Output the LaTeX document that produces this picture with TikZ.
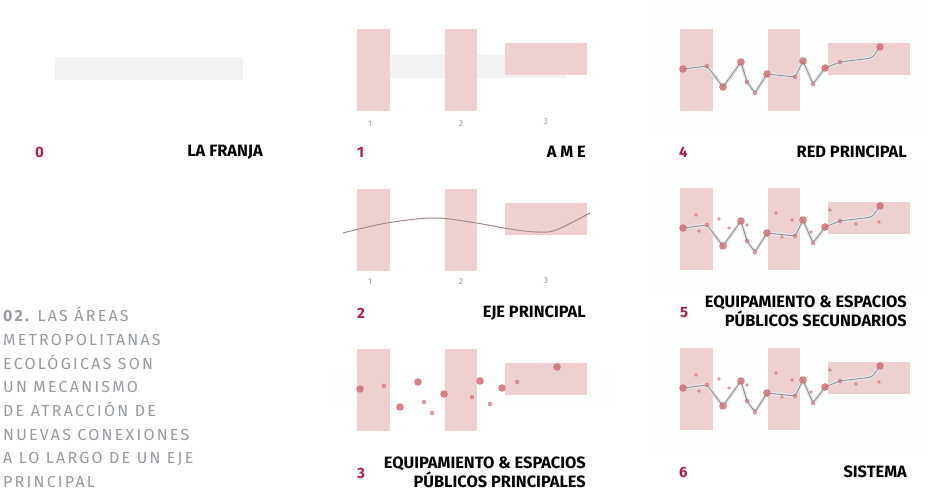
\documentclass[tikz,border=0pt]{standalone}
\usepackage{fontspec}
\setmainfont{Fira Sans}
\usetikzlibrary{positioning}

\definecolor{franja}{RGB}{242,242,242}
\definecolor{ame}{RGB}{239,208,208}
\definecolor{numred}{RGB}{181,26,77}
\definecolor{ejecol}{RGB}{165,136,138}
\definecolor{halo}{RGB}{222,234,241}
\definecolor{dotcol}{RGB}{206,112,118}
\definecolor{txtgray}{RGB}{150,155,160}
\definecolor{faint}{RGB}{253,254,254}

\newcommand{\ameblocks}{
\fill[ame] (357,29) rectangle (390,111);
\fill[ame] (445,29) rectangle (477,111);
\fill[ame] (505,43) rectangle (587,75);
}

\newcommand{\redcoords}{
\coordinate (n1) at (360,69);
\coordinate (n2) at (384,66);
\coordinate (n3) at (400,87);
\coordinate (n4) at (418,62);
\coordinate (n5) at (424,82);
\coordinate (n6) at (432,93);
\coordinate (n7) at (444,74);
\coordinate (n8) at (472,77);
\coordinate (n9) at (480,61);
\coordinate (n10) at (490,84);
\coordinate (n11) at (502,68);
\coordinate (n12) at (517,62);
\coordinate (n13) at (549,58);
\coordinate (n14) at (557,47);
}

\newcommand{\reddots}{
\foreach \n in {n1,n3,n4,n7,n9,n11,n14}
  \fill[bigdot] (\n) circle (3.8);
\foreach \n in {n2,n5,n6,n8,n10,n12}
  \fill[smalldot] (\n) circle (2.3);
}

\newcommand{\redline}{
\draw[halo, line width=3.5, rounded corners=3] (n1) -- (n2) -- (n3) -- (n4) -- (n5) -- (n6) -- (n7) -- (n8) -- (n9) -- (n10) -- (n11) -- (n12) -- (n13) -- (n14);
\draw[ejecol, line width=0.9, rounded corners=3] (n1) -- (n2) -- (n3) -- (n4) -- (n5) -- (n6) -- (n7) -- (n8) -- (n9) -- (n10) -- (n11) -- (n12) -- (n13) -- (n14);
}

\newcommand{\secdots}{
\foreach \p in {(373,56),(376,72),(396,60),(406,69),(424,66),(453,54),(459,78),(469,61),(488,73),(507,51),(533,65),(556,63)}
  \fill[smalldot] \p circle (1.8);
}

\begin{document}
\begin{tikzpicture}[x=1pt, y=-1pt,
  numlabel/.style={text=numred, font=\fontsize{15}{18}\selectfont\bfseries, inner sep=0pt},
  panellabel/.style={font=\fontsize{16.4}{19}\selectfont\bfseries, align=right, inner sep=0pt},
  tinylabel/.style={text=black!40, font=\fontsize{8.5}{9}\selectfont, inner sep=0pt},
  paraline/.style={text=txtgray, font=\fontsize{16}{18}\selectfont\addfontfeatures{LetterSpace=14}, anchor=base west, inner sep=0pt},
  bigdot/.style={dotcol, opacity=0.85},
  smalldot/.style={dotcol, opacity=0.7}]

\useasboundingbox (0,0) rectangle (929,494);

\fill[franja] (55,57) rectangle (243,80);

\fill[franja] (390,55) rectangle (566,78);
\ameblocks
\node[tinylabel] (a1) at (370,124) {1};
\node[tinylabel] (a2) at (461,124) {2};
\node[tinylabel] (a3) at (546,122) {3};

\begin{scope}[shift={(0,160)}]
\ameblocks
\draw[ejecol, line width=1] plot[smooth, tension=0.6] coordinates {(343,73) (387,63) (433,58) (470,62) (510,69) (537,72) (556,70) (590,53)};
\node[tinylabel] (b1) at (370,122) {1};
\node[tinylabel] (b2) at (461,122) {2};
\node[tinylabel] (b3) at (546,121) {3};
\end{scope}

\begin{scope}[shift={(0,320)}]
\fill[faint] (330,50) rectangle (615,86);
\ameblocks
\redcoords
\reddots
\end{scope}

\begin{scope}[shift={(323,0)}]
\fill[faint] (330,5) rectangle (598,130);
\ameblocks
\redcoords
\redline
\reddots
\end{scope}

\begin{scope}[shift={(323,159)}]
\fill[faint] (330,5) rectangle (598,130);
\ameblocks
\redcoords
\redline
\reddots
\secdots
\end{scope}

\begin{scope}[shift={(323,319)}]
\fill[faint] (330,5) rectangle (598,130);
\ameblocks
\redcoords
\redline
\reddots
\secdots
\end{scope}

\node[numlabel, anchor=west] (num0) at (35,152) {0};
\node[panellabel, anchor=east] (lab0) at (263,152) {LA FRANJA};
\node[numlabel, anchor=west] (num1) at (357,152) {1};
\node[panellabel, anchor=east] (lab1) at (586,152) {A M E};
\node[numlabel, anchor=west] (num2) at (357,313) {2};
\node[panellabel, anchor=east] (lab2) at (586,313) {EJE PRINCIPAL};
\node[numlabel, anchor=west] (num3) at (357,473) {3};
\node[panellabel, anchor=east] (lab3) at (586,472) {EQUIPAMIENTO \& ESPACIOS\\PÚBLICOS PRINCIPALES};
\node[numlabel, anchor=west] (num4) at (679,152) {4};
\node[panellabel, anchor=east] (lab4) at (907,152) {RED PRINCIPAL};
\node[numlabel, anchor=west] (num5) at (680,313) {5};
\node[panellabel, anchor=east] (lab5) at (907,311) {EQUIPAMIENTO \& ESPACIOS\\PÚBLICOS SECUNDARIOS};
\node[numlabel, anchor=west] (num6) at (679,472) {6};
\node[panellabel, anchor=east] (lab6) at (907,472) {SISTEMA};

\foreach \txt [count=\i] in {{\bfseries 02.} LAS ÁREAS, METROPOLITANAS, ECOLÓGICAS SON, UN MECANISMO, DE ATRACCIÓN DE, NUEVAS CONEXIONES, A LO LARGO DE UN EJE, PRINCIPAL}
  \node[paraline] (p\i) at (3,{322+(\i-1)*23.6}) {\txt};

\end{tikzpicture}
\end{document}
